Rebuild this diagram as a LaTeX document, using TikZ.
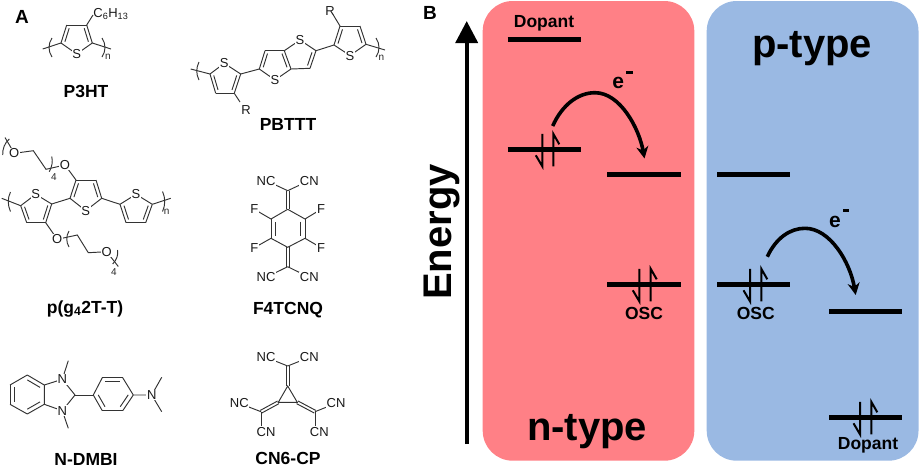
\documentclass[tikz,border=0pt]{standalone}
\usepackage{fontspec}
\setmainfont{Liberation Sans}
\usetikzlibrary{calc,arrows.meta}
\definecolor{panelred}{HTML}{FF8086}
\definecolor{panelblue}{HTML}{9AB9E3}
\tikzset{
  x=1pt,y=-1pt,
  bond/.style={line width=0.95pt,draw=black!80},
  atom/.style={font=\fontsize{13}{13}\selectfont,text=black!90,fill=white,inner sep=0.7pt,text height=9.3pt,text depth=0pt},
  idx/.style={font=\fontsize{10}{10}\selectfont,text=black!85,inner sep=0pt},
  molname/.style={font=\fontsize{17.5}{17.5}\selectfont\bfseries,anchor=base,inner sep=0pt},
  panellabel/.style={font=\fontsize{19}{19}\selectfont\bfseries,anchor=base,inner sep=0pt},
  panelbox/.style={rounded corners=30pt},
  lvl/.style={line width=5.3pt},
  spinline/.style={line width=2pt},
  smalltext/.style={font=\fontsize{17.5}{17.5}\selectfont\bfseries,anchor=base,inner sep=0pt},
  bigtext/.style={font=\fontsize{40}{40}\selectfont\bfseries,anchor=base,inner sep=0pt},
  elec/.style={font=\fontsize{21}{21}\selectfont\bfseries,inner sep=0pt},
  jump/.style={line width=3.6pt,-{Stealth[length=12pt,width=12pt]}},
}
\newcommand{\dbond}[3]{\draw[bond] (#1) -- (#2);\draw[bond] ($(#1)!0.25!(#3)$) -- ($(#2)!0.25!(#3)$);}
\newcommand{\dbondout}[2]{\draw[bond] ($(#1)!1.5pt!90:(#2)$) -- ($(#2)!1.5pt!-90:(#1)$);\draw[bond] ($(#1)!-1.5pt!90:(#2)$) -- ($(#2)!-1.5pt!-90:(#1)$);}
\newcommand{\thio}[5]{%
  \coordinate (G) at ($0.2*(#1)+0.2*(#2)+0.2*(#3)+0.2*(#4)+0.2*(#5)$);
  \draw[bond] (#5) -- (#1) -- (#2);
  \dbond{#2}{#3}{G}\draw[bond] (#3) -- (#4);\dbond{#4}{#5}{G}}
\newcommand{\pair}[3]{%
  \draw[spinline] (#1,#3-15.5) -- (#1,#3+17) -- (#1-6.5,#3+6);
  \draw[spinline] (#2,#3+17) -- (#2,#3-15.5) -- (#2+6,#3-5);}
\begin{document}
\begin{tikzpicture}
\useasboundingbox (0,0) rectangle (920,467);
% ---------- panel labels
\node[panellabel] (labA) at (22,23) {A};
\node[panellabel] (labB) at (430,19.5) {B};
% ---------- P3HT
\coordinate (a1) at (61,43);\coordinate (a2) at (66.7,25);\coordinate (a3) at (86.7,25);\coordinate (a4) at (92.3,43);\coordinate (as) at (76.7,54);
\thio{as}{a1}{a2}{a3}{a4}
\draw[bond] (a1) -- (42.7,49);
\draw[bond] (a4) -- (111,49);
\draw[bond] (a3) -- (93,15);
\draw[bond] (52,38) .. controls (48,44) and (48,51) .. (52,57);
\draw[bond] (102,38) .. controls (106,44) and (106,51) .. (102,57);
\node[atom] (S1) at (as) {S};
\node[atom,fill=none,anchor=west] (hex) at (92.5,12.5) {C\textsubscript{6}H\textsubscript{13}};
\node[idx] (n1) at (108,57) {n};
\node[molname] (P3HT) at (86,97.5) {P3HT};
% ---------- PBTTT
\coordinate (b1) at (210,74);\coordinate (b2) at (215.7,93.3);\coordinate (b3) at (234.3,93.3);\coordinate (b4) at (240.7,74);\coordinate (bs) at (224.3,63.3);
\thio{bs}{b4}{b3}{b2}{b1}
\draw[bond] (b1) -- (190.7,69);
\draw[bond] (b3) -- (240,102);
\draw[bond] (199,62) .. controls (196,68) and (196,74) .. (199,80);
\coordinate (c1) at (259.3,69);\coordinate (c2) at (265,50.7);\coordinate (c3) at (284.3,50.7);\coordinate (c4) at (291,69);\coordinate (cs) at (275,80);
\coordinate (c5) at (300,40);\coordinate (c6) at (316,50.7);\coordinate (c7) at (310,68.3);
\coordinate (G1) at (275,62);\coordinate (G2) at (300,57);
\draw[bond] (b4) -- (c1);
\draw[bond] (c4) -- (cs) -- (c1);
\dbond{c1}{c2}{G1}\draw[bond] (c2) -- (c3);\dbond{c3}{c4}{G1}
\draw[bond] (c3) -- (c5) -- (c6);\dbond{c6}{c7}{G2}\draw[bond] (c7) -- (c4);
\coordinate (d1) at (334,45);\coordinate (d2) at (340,26);\coordinate (d3) at (360,26);\coordinate (d4) at (366,44.3);\coordinate (ds) at (350,55.5);
\draw[bond] (c6) -- (d1);
\thio{ds}{d1}{d2}{d3}{d4}
\draw[bond] (d4) -- (385,50);
\draw[bond] (d2) -- (333.3,15);
\draw[bond] (376,38) .. controls (380,44) and (380,51) .. (376,57);
\node[atom] (Sb) at (bs) {S};
\node[atom] (Sc) at (cs) {S};
\node[atom] (Sc2) at (c5) {S};
\node[atom] (Sd) at (ds) {S};
\node[atom,fill=none] (R1) at (246,109.5) {R};
\node[atom,fill=none] (R2) at (330,10.5) {R};
\node[idx] (n2) at (381.5,58) {n};
\node[molname] (PBTTT) at (288,130) {PBTTT};
% ---------- p(g42T-T)
\coordinate (e1) at (20.7,205.7);\coordinate (e2) at (26.7,222.7);\coordinate (e3) at (45.7,222.7);\coordinate (e4) at (51.7,204);\coordinate (es) at (35.7,194.3);
\thio{es}{e4}{e3}{e2}{e1}
\draw[bond] (e1) -- (1.7,198.3);
\draw[bond] (10.5,192) .. controls (7.5,198) and (7.5,205) .. (10.5,211.5);
\coordinate (f1) at (70,198.3);\coordinate (f2) at (76,180);\coordinate (f3) at (96,180);\coordinate (f4) at (101.7,198.3);\coordinate (fs) at (85.7,210.7);
\draw[bond] (e4) -- (f1);
\thio{fs}{f1}{f2}{f3}{f4}
\coordinate (g1) at (120,204.3);\coordinate (g2) at (126,222.7);\coordinate (g3) at (145.7,222.7);\coordinate (g4) at (152.3,204.3);\coordinate (gs) at (136,194.3);
\draw[bond] (f4) -- (g1);
\thio{gs}{g1}{g2}{g3}{g4}
\draw[bond] (g4) -- (170.7,198.3);
\draw[bond] (162.5,191.5) .. controls (165.5,198) and (165.5,205) .. (162.5,211.5);
% upper glycol
\coordinate (h1) at (65,165);\coordinate (h2) at (14.3,153.3);
\draw[bond] (f2) -- (h1) -- (46,169.3) -- (33.3,150.7) -- (h2);
\draw[bond] (h2) -- (5,137.5);
\draw[bond] (51.7,156.5) .. controls (53,161) and (52,167) .. (49.3,171.7);
\draw[bond] (2.7,155) .. controls (2.5,149) and (4.5,143) .. (9.3,139);
% lower glycol
\coordinate (j1) at (57.3,239.3);\coordinate (j2) at (106.7,251.7);
\draw[bond] (e3) -- (j1) -- (77.3,235) -- (88.3,252.7) -- (j2) -- (118.3,266.5);
\draw[bond] (69,231) .. controls (66,236) and (66,242) .. (69,247);
\draw[bond] (117.5,250) .. controls (118.5,255) and (116.5,260) .. (112.7,264);
\node[atom] (Se) at (es) {S};
\node[atom] (Sf) at (fs) {S};
\node[atom] (Sg) at (gs) {S};
\node[atom] (O1) at (h1) {O};
\node[atom] (O2) at (h2) {O};
\node[atom] (O3) at (j1) {O};
\node[atom] (O4) at (j2) {O};
\node[idx] (f1i) at (54,177) {4};
\node[idx] (f2i) at (114,272.5) {4};
\node[idx] (n3) at (166.7,212) {n};
\node[molname] (PG) at (85,313) {p(g\textsubscript{4}2T-T)};
% ---------- F4TCNQ
\coordinate (k0) at (287.7,190.7);\coordinate (k1) at (287.7,209.3);\coordinate (k2) at (305,219);\coordinate (k3) at (305,238.3);\coordinate (k4) at (287.7,247.3);\coordinate (k5) at (271,238.3);\coordinate (k6) at (271,219);\coordinate (k7) at (287.7,266.7);\coordinate (kg) at (288,229);
\dbondout{k0}{k1}\dbondout{k4}{k7}
\draw[bond] (k1) -- (k2);\dbond{k2}{k3}{kg}\draw[bond] (k3) -- (k4) -- (k5);\dbond{k5}{k6}{kg}\draw[bond] (k6) -- (k1);
\coordinate (l1) at (266,180.5);\coordinate (l2) at (309.3,180.5);\coordinate (l3) at (266,277.3);\coordinate (l4) at (309.3,277.3);
\coordinate (f5) at (254.3,209.3);\coordinate (f6) at (321,209.3);\coordinate (f7) at (254.3,247.7);\coordinate (f8) at (321,247.7);
\draw[bond] (k0) -- (l1);\draw[bond] (k0) -- (l2);\draw[bond] (k7) -- (l3);\draw[bond] (k7) -- (l4);
\draw[bond] (k6) -- (f5);\draw[bond] (k2) -- (f6);\draw[bond] (k5) -- (f7);\draw[bond] (k3) -- (f8);
\node[atom] (NC1) at (l1) {NC};\node[atom] (CN1) at (l2) {CN};\node[atom] (NC2) at (l3) {NC};\node[atom] (CN2) at (l4) {CN};
\node[atom] (F1) at (f5) {F};\node[atom] (F2) at (f6) {F};\node[atom] (F3) at (f7) {F};\node[atom] (F4) at (f8) {F};
\node[molname] (F4T) at (288,314) {F4TCNQ};
% ---------- N-DMBI
\coordinate (m1) at (27.3,375);\coordinate (m2) at (44.3,385);\coordinate (m3) at (44.3,404.3);\coordinate (m4) at (27.3,414);\coordinate (m5) at (10,404.3);\coordinate (m6) at (10,385);\coordinate (mg) at (27.3,394.6);
\draw[bond] (m2) -- (m3) (m4) -- (m5) (m6) -- (m1);
\dbond{m1}{m2}{mg}\dbond{m3}{m4}{mg}\dbond{m5}{m6}{mg}
\coordinate (n1c) at (62.3,379.3);\coordinate (n2c) at (62.3,410.7);\coordinate (n3c) at (75,395);
\draw[bond] (m2) -- (n1c) -- (n3c) -- (n2c) -- (m3);
\draw[bond] (n1c) -- (68.3,360.7);\draw[bond] (n2c) -- (68.3,428.3);
\coordinate (p1) at (93.3,395);\coordinate (p2) at (102.3,377.7);\coordinate (p3) at (122.7,377.7);\coordinate (p4) at (133.3,395);\coordinate (p5) at (122.7,410.7);\coordinate (p6) at (102.3,410.7);\coordinate (pg) at (113,394.5);
\draw[bond] (n3c) -- (p1);
\dbond{p2}{p3}{pg}\draw[bond] (p3) -- (p4);\dbond{p4}{p5}{pg}\draw[bond] (p5) -- (p6);\dbond{p6}{p1}{pg}\draw[bond] (p1) -- (p2);
\coordinate (q1) at (151.7,395);
\draw[bond] (p4) -- (q1) -- (161.7,377.3);\draw[bond] (q1) -- (161.7,411.7);
\node[atom] (N1) at (n1c) {N};\node[atom] (N2) at (n2c) {N};\node[atom] (N3) at (q1) {N};
\node[molname] (NDMBI) at (86,465) {N-DMBI};
% ---------- CN6-CP
\coordinate (r1) at (287.7,386);\coordinate (r2) at (278.3,402.3);\coordinate (r3) at (297.3,402.3);
\coordinate (r4) at (287.7,366);\coordinate (r5) at (261,411.7);\coordinate (r6) at (315,411.7);
\draw[bond] (r1) -- (r2) -- (r3) -- cycle;
\dbondout{r1}{r4}\dbondout{r2}{r5}\dbondout{r3}{r6}
\coordinate (s1) at (266,357.3);\coordinate (s2) at (309.3,357.3);\coordinate (s3) at (239.3,403.3);\coordinate (s4) at (266,431.7);\coordinate (s5) at (336,403.3);\coordinate (s6) at (319.3,432.3);
\draw[bond] (r4) -- (s1);\draw[bond] (r4) -- (s2);\draw[bond] (r5) -- (s3);\draw[bond] (r5) -- (261,426);\draw[bond] (r6) -- (s5);\draw[bond] (r6) -- (315,426);
\node[atom] (t1) at (s1) {NC};\node[atom] (t2) at (s2) {CN};\node[atom] (t3) at (s3) {NC};\node[atom] (t4) at (s4) {CN};\node[atom] (t5) at (s5) {CN};\node[atom] (t6) at (s6) {CN};
\node[molname] (CNCP) at (288,464) {CN6-CP};
% ---------- panel B
\fill[panelred,panelbox] (482.7,1) rectangle (694.3,460.7);
\fill[panelblue,panelbox] (706.7,1) rectangle (918.5,460.7);
\coordinate (ebot) at (466.7,444);\coordinate (etop) at (466.7,21);
\draw[line width=3.8pt,-{Triangle[length=22pt,width=22pt]}] (ebot) -- (etop);
\node[font=\fontsize{40}{40}\selectfont\bfseries,rotate=90,anchor=base,inner sep=0pt] (En) at (451,232) {Energy};
\node[smalltext] (D1) at (544,27.3) {Dopant};
\draw[lvl] (507.5,39.7) -- (580.5,39.7);
\draw[lvl] (507.5,149.3) -- (580.5,149.3);
\pair{542.3}{553.3}{149.3}
\draw[lvl] (607.3,174.3) -- (680.5,174.3);
\draw[lvl] (607.3,284.3) -- (680.5,284.3);
\pair{639.3}{650.7}{284.3}
\node[smalltext] (O5) at (644,319.3) {OSC};
\node[bigtext] (NT) at (587,440) {n-type};
\draw[lvl] (717,174.3) -- (789.5,174.3);
\draw[lvl] (717,284.3) -- (789.5,284.3);
\pair{750}{761.3}{284.3}
\node[smalltext] (O6) at (755.7,319.3) {OSC};
\draw[lvl] (829,311.3) -- (901.7,311.3);
\draw[lvl] (829,417.3) -- (901.7,417.3);
\pair{860}{871.3}{417.3}
\node[smalltext] (D2) at (868,449.3) {Dopant};
\node[bigtext] (PT) at (812,57) {p-type};
\coordinate (u1) at (552.7,126);\coordinate (u2) at (595,92.7);\coordinate (u3) at (644.5,158.5);
\draw[jump] (u1) .. controls (562,105) and (578,92.7) .. (u2) .. controls (620,92.7) and (639,128) .. (u3);
\coordinate (w1) at (767.3,256.7);\coordinate (w2) at (805,228.3);\coordinate (w3) at (855.7,295);
\draw[jump] (w1) .. controls (776,238) and (790,228.3) .. (w2) .. controls (830,228.3) and (850,262) .. (w3);
\node[elec] (e1t) at (618.3,83) {e};
\fill (626.2,70.8) rectangle (632.5,73.8);
\node[elec] (e2t) at (835,221.5) {e};
\fill (842.8,208.5) rectangle (849,211.5);
\end{tikzpicture}
\end{document}
